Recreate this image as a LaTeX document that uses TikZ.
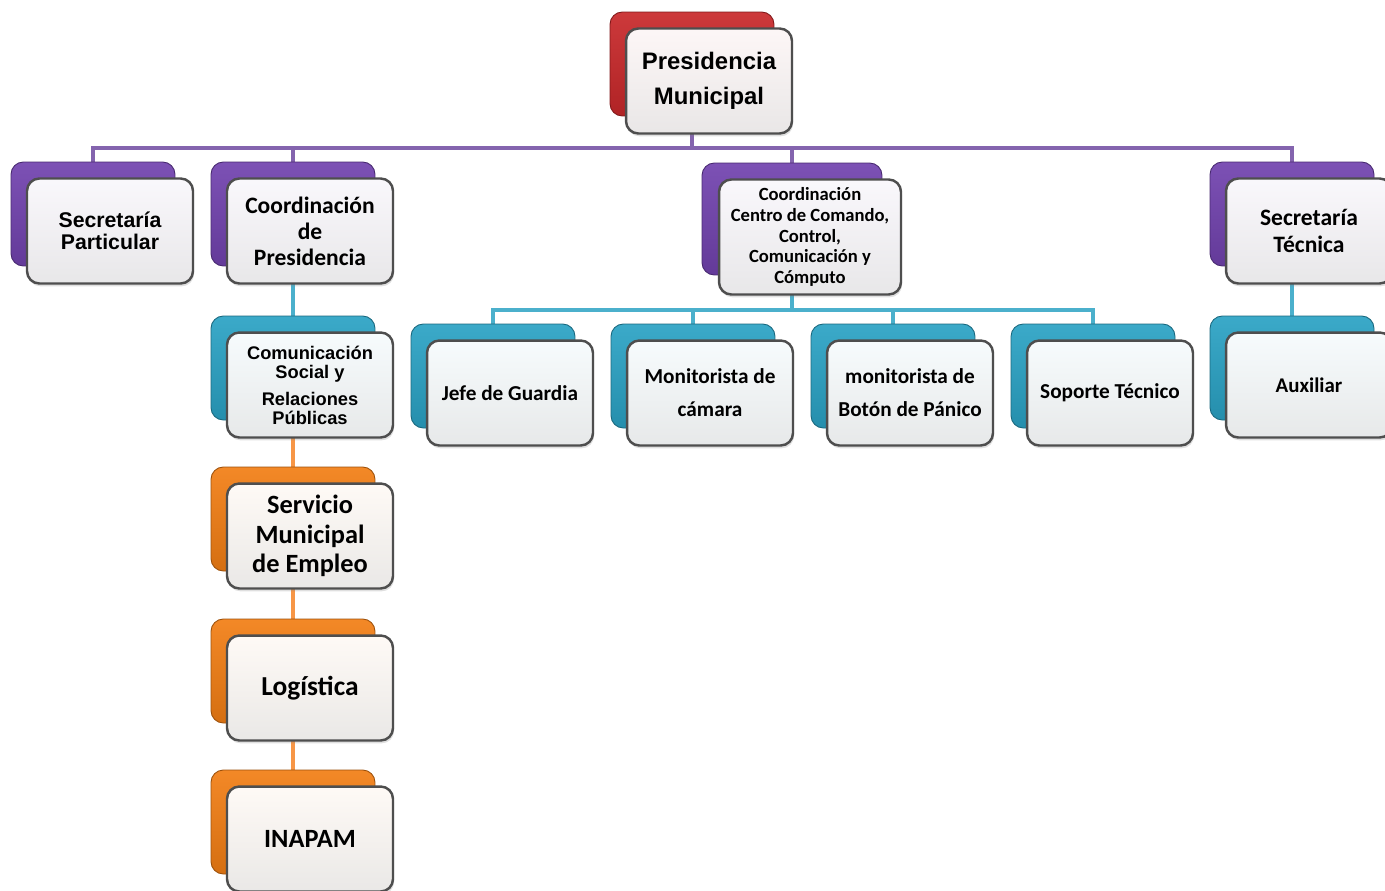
\documentclass[tikz,border=0pt]{standalone}
\usepackage{fontspec}
\setmainfont{Carlito}
\newfontfamily\arialfont{Liberation Sans}
\usepackage{tikz}
\usetikzlibrary{positioning,backgrounds,shadows}

\definecolor{orgred}{HTML}{C8282A}
\definecolor{orgpurple}{HTML}{7142AE}
\definecolor{orgblue}{HTML}{2AA2C4}
\definecolor{orgorange}{HTML}{F27E14}
\definecolor{linepurple}{HTML}{8464AE}
\definecolor{lineblue}{HTML}{4BB0CC}
\definecolor{lineorange}{HTML}{F79646}
\definecolor{cardline}{HTML}{4E4E4E}

\tikzset{
    backcard/.style={draw=#1!65!black, line width=0.5pt, rounded corners=7pt,
        top color=#1!92!white, bottom color=#1!88!black,
        minimum width=3.28cm, minimum height=2.08cm},
    frontcard/.style={draw=cardline, line width=1.4pt, rounded corners=7pt,
        top color=#1!4!white, bottom color=#1!8!gray!18!white,
        minimum width=3.32cm, minimum height=2.1cm, align=center, inner sep=0pt,
        drop shadow={opacity=0.25, shadow xshift=0.6pt, shadow yshift=-1.6pt}},
    bus/.style={line width=2.6pt, draw=#1},
}

\begin{document}
\begin{tikzpicture}[x=0.02cm, y=-0.02cm]
    \useasboundingbox (0,0) rectangle (1385,890);
    \clip (0,0) rectangle (1385,890);
    \coordinate (pbus) at (0,148);
    \coordinate (bbus) at (0,310);

    \node[backcard=orgred] (pm-b) at (692,64) {};
    \node[frontcard=orgred, font=\arialfont\bfseries\fontsize{13.6}{20}\selectfont]
        (pm) at ([shift={(17,17)}]pm-b.center) {Presidencia\\Municipal};

    \node[backcard=orgpurple] (sp-b) at (93,214) {};
    \node[frontcard=orgpurple, font=\arialfont\bfseries\fontsize{12.1}{12.6}\selectfont]
        (sp) at ([shift={(17,17)}]sp-b.center) {Secretaría\\Particular};

    \node[backcard=orgpurple] (cp-b) at (293,214) {};
    \node[frontcard=orgpurple, font=\bfseries\fontsize{13.4}{14.8}\selectfont]
        (cp) at ([shift={(17,17)}]cp-b.center) {Coordinación\\de\\Presidencia};

    \node[backcard=orgpurple, minimum width=3.6cm, minimum height=2.24cm] (cc-b) at (792,219) {};
    \node[frontcard=orgpurple, minimum width=3.64cm, minimum height=2.3cm,
        font=\bfseries\fontsize{10.6}{11.7}\selectfont]
        (cc) at ([shift={(18,18)}]cc-b.center)
        {Coordinación\\Centro de Comando,\\Control,\\Comunicación y\\Cómputo};

    \node[backcard=orgpurple] (st-b) at (1292,214) {};
    \node[frontcard=orgpurple, font=\bfseries\fontsize{13.4}{15.4}\selectfont]
        (st) at ([shift={(17,17)}]st-b.center) {Secretaría\\Técnica};

    \node[backcard=orgblue] (com-b) at (293,368) {};
    \node[frontcard=orgblue, font=\arialfont\bfseries\fontsize{10.4}{10.8}\selectfont]
        (com) at ([shift={(17,17)}]com-b.center) {Comunicación\\Social y\\[4.6pt]Relaciones\\Públicas};

    \node[backcard=orgblue] (jg-b) at (493,376) {};
    \node[frontcard=orgblue, font=\bfseries\fontsize{12.1}{14}\selectfont]
        (jg) at ([shift={(17,17)}]jg-b.center) {Jefe de Guardia};

    \node[backcard=orgblue] (mc-b) at (693,376) {};
    \node[frontcard=orgblue, font=\bfseries\fontsize{12.1}{18.8}\selectfont]
        (mc) at ([shift={(17,17)}]mc-b.center) {Monitorista de\\cámara};

    \node[backcard=orgblue] (mb-b) at (893,376) {};
    \node[frontcard=orgblue, font=\bfseries\fontsize{12.1}{18.8}\selectfont]
        (mb) at ([shift={(17,17)}]mb-b.center) {monitorista de\\Botón de Pánico};

    \node[backcard=orgblue] (stc-b) at (1093,376) {};
    \node[frontcard=orgblue, font=\bfseries\fontsize{12.1}{14}\selectfont]
        (stc) at ([shift={(17,17)}]stc-b.center) {Soporte Técnico};

    \node[backcard=orgblue] (aux-b) at (1292,368) {};
    \node[frontcard=orgblue, font=\bfseries\fontsize{11.9}{14}\selectfont]
        (aux) at ([shift={(17,17)}]aux-b.center) {Auxiliar};

    \node[backcard=orgorange] (sme-b) at (293,519) {};
    \node[frontcard=orgorange, font=\bfseries\fontsize{15}{16.8}\selectfont]
        (sme) at ([shift={(17,17)}]sme-b.center) {Servicio\\Municipal\\de Empleo};

    \node[backcard=orgorange] (log-b) at (293,671) {};
    \node[frontcard=orgorange, font=\bfseries\fontsize{15.6}{18}\selectfont]
        (log) at ([shift={(17,17)}]log-b.center) {Logística};

    \node[backcard=orgorange] (ina-b) at (293,822) {};
    \node[frontcard=orgorange, font=\bfseries\fontsize{15}{18}\selectfont]
        (ina) at ([shift={(17,17)}]ina-b.center) {INAPAM};

    \begin{scope}[on background layer]
        \draw[bus=linepurple] (pm-b.south) -- (pm-b.south |- pbus);
        \draw[bus=linepurple] (sp-b.north) |- (st-b.north |- pbus) -- (st-b.north);
        \draw[bus=linepurple] (cp-b.north) -- (cp-b.north |- pbus);
        \draw[bus=linepurple] (cc-b.north) -- (cc-b.north |- pbus);

        \draw[bus=lineblue] (cc-b.south) -- (cc-b.south |- bbus);
        \draw[bus=lineblue] (jg-b.north) |- (stc-b.north |- bbus) -- (stc-b.north);
        \draw[bus=lineblue] (mc-b.north) -- (mc-b.north |- bbus);
        \draw[bus=lineblue] (mb-b.north) -- (mb-b.north |- bbus);
        \draw[bus=lineblue] (cp-b.south) -- (com-b.north);
        \draw[bus=lineblue] (st-b.south) -- (aux-b.north);

        \draw[bus=lineorange] (com-b.south) -- (sme-b.north);
        \draw[bus=lineorange] (sme-b.south) -- (log-b.north);
        \draw[bus=lineorange] (log-b.south) -- (ina-b.north);
    \end{scope}
\end{tikzpicture}
\end{document}
